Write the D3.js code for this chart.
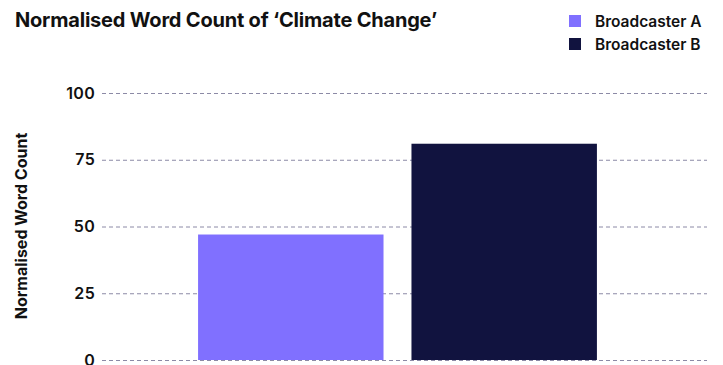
<!DOCTYPE html>
<html>
<head>
<meta charset="utf-8">
<script src="https://cdn.jsdelivr.net/npm/d3@7"></script>
<style>
  body { margin: 0; background: #fff; font-family: Inter, "Noto Sans", sans-serif; }
</style>
</head>
<body>
<div class="canvas"></div>
<script>
// data
const broadcasters = ['Broadcaster A', 'Broadcaster B'];
const wordCounts = [47, 81];
const barColours = ['#8070ff', '#11133f'];
const yTicks = [0, 25, 50, 75, 100];

// dimensions
const width = 723, height = 365;
const margin = {top: 93, right: 16, bottom: 5, left: 102};
const graphWidth = width - margin.left - margin.right;
const graphHeight = height - margin.top - margin.bottom;

const svg = d3.select('.canvas')
  .append('svg')
  .attr('width', width)
  .attr('height', height);

// title
svg.append('text')
  .attr('x', 15)
  .attr('y', 27)
  .attr('font-size', 20)
  .attr('font-weight', 700)
  .attr('letter-spacing', -0.2)
  .attr('fill', '#111')
  .text('Normalised Word Count of ‘Climate Change’');

const graph = svg.append('g')
  .attr('transform', `translate(${margin.left},${margin.top})`);

// scales
const x = d3.scaleBand()
  .domain(broadcasters)
  .range([0, graphWidth])
  .paddingInner(0.131)
  .paddingOuter(0.483)
  .align(0.466);

const y = d3.scaleLinear()
  .domain([0, 100])
  .range([graphHeight, 0]);

// gridlines
graph.append('g')
  .selectAll('line')
  .data(yTicks)
  .join('line')
  .attr('x1', 0)
  .attr('x2', graphWidth)
  .attr('y1', d => y(d) + 0.5)
  .attr('y2', d => y(d) + 0.5)
  .attr('stroke', '#8c8aa6')
  .attr('stroke-width', 1)
  .attr('stroke-dasharray', '4,3');

// y axis labels
const yAxis = d3.axisLeft(y)
  .tickValues(yTicks)
  .tickSize(0)
  .tickPadding(7);

const yAxisGroup = graph.append('g').call(yAxis);
yAxisGroup.select('.domain').remove();
yAxisGroup.selectAll('text')
  .attr('font-family', 'Inter, sans-serif')
  .attr('font-size', 16)
  .attr('font-weight', 600)
  .attr('letter-spacing', 0.3)
  .attr('fill', '#111');

// y axis title
svg.append('text')
  .attr('transform', 'translate(27,226) rotate(-90)')
  .attr('text-anchor', 'middle')
  .attr('font-size', 16)
  .attr('font-weight', 700)
  .attr('fill', '#111')
  .text('Normalised Word Count');

// bars
graph.selectAll('rect.bar')
  .data(wordCounts)
  .join('rect')
  .attr('class', 'bar')
  .attr('x', (d, i) => x(broadcasters[i]))
  .attr('y', d => y(d))
  .attr('width', x.bandwidth())
  .attr('height', d => graphHeight - y(d))
  .attr('fill', (d, i) => barColours[i]);

// legend
const legend = svg.append('g')
  .attr('transform', 'translate(569,15)');

const items = legend.selectAll('g')
  .data(broadcasters)
  .join('g')
  .attr('transform', (d, i) => `translate(0,${i * 23})`);

items.append('rect')
  .attr('width', 12)
  .attr('height', 12)
  .attr('fill', (d, i) => barColours[i]);

items.append('text')
  .attr('x', 26)
  .attr('y', 11.5)
  .attr('font-size', 15.5)
  .attr('font-weight', 600)
  .attr('fill', '#111')
  .text(d => d);
</script>
</body>
</html>
